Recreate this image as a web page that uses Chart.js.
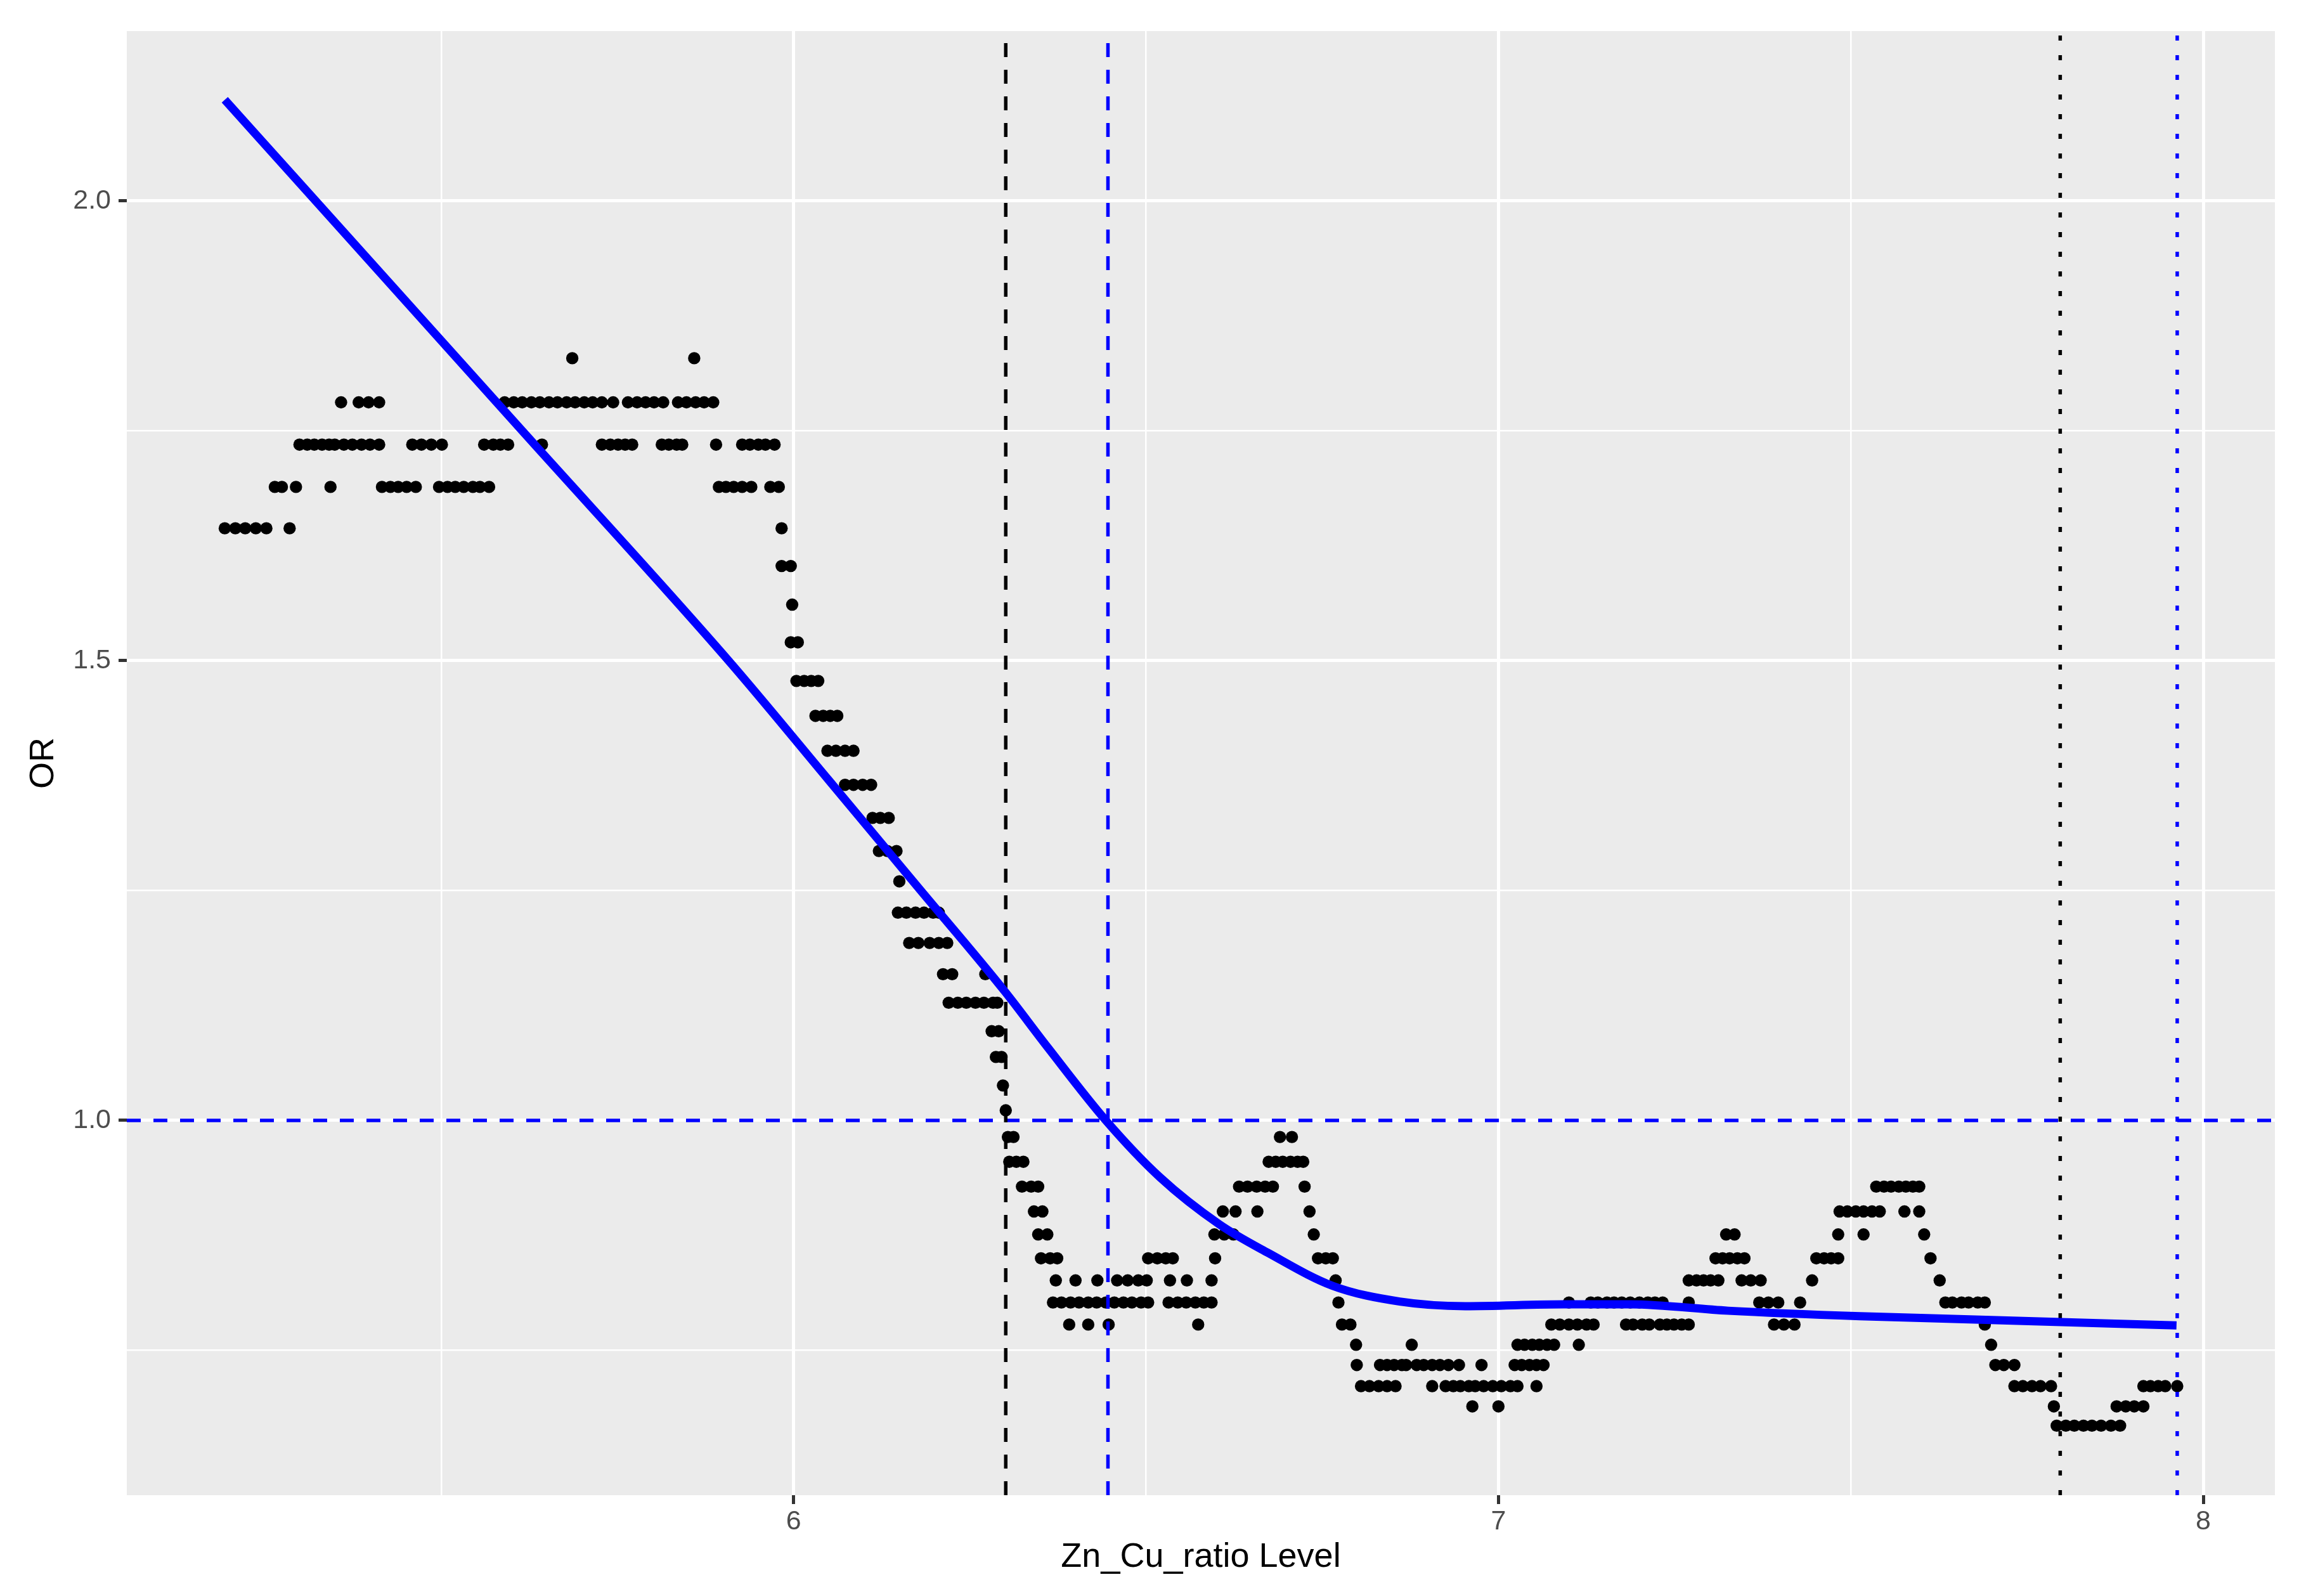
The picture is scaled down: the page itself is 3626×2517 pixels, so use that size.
<!DOCTYPE html>
<html>
<head>
<meta charset="utf-8">
<style>
  html, body { margin: 0; padding: 0; background: #ffffff; }
  canvas { display: block; }
</style>
<script src="https://cdn.jsdelivr.net/npm/chart.js@4.4.1/dist/chart.umd.min.js"></script>
</head>
<body>
<canvas id="c" width="3626" height="2517"></canvas>
<script>
// ---- Data ----
const orLevels = [1.829, 1.781, 1.735, 1.689, 1.644, 1.603, 1.561, 1.520, 1.478, 1.440,
  1.402, 1.365, 1.329, 1.293, 1.260, 1.226, 1.193, 1.159, 1.128, 1.097,
  1.069, 1.038, 1.011, 0.982, 0.955, 0.928, 0.901, 0.876, 0.850, 0.826,
  0.802, 0.778, 0.756, 0.734, 0.711, 0.689, 0.668];

const levelX = [
  [5.686, 5.859],
  [5.358, 5.383, 5.397, 5.412, 5.590, 5.603, 5.615, 5.628, 5.640, 5.653, 5.665, 5.678, 5.690, 5.703, 5.715, 5.728, 5.744, 5.765, 5.778, 5.790, 5.802, 5.815, 5.836, 5.848, 5.861, 5.873, 5.886],
  [5.299, 5.310, 5.320, 5.331, 5.341, 5.349, 5.362, 5.374, 5.387, 5.399, 5.412, 5.459, 5.472, 5.486, 5.501, 5.561, 5.574, 5.584, 5.595, 5.643, 5.728, 5.740, 5.751, 5.761, 5.771, 5.813, 5.823, 5.834, 5.842, 5.890, 5.927, 5.938, 5.950, 5.960, 5.973],
  [5.264, 5.274, 5.294, 5.343, 5.416, 5.428, 5.439, 5.451, 5.464, 5.497, 5.509, 5.520, 5.532, 5.545, 5.555, 5.568, 5.894, 5.904, 5.915, 5.927, 5.940, 5.967, 5.979],
  [5.193, 5.208, 5.222, 5.237, 5.252, 5.285, 5.983],
  [5.983, 5.996],
  [5.998],
  [5.996, 6.006],
  [6.004, 6.015, 6.025, 6.035],
  [6.031, 6.042, 6.052, 6.062],
  [6.048, 6.060, 6.073, 6.085],
  [6.073, 6.085, 6.098, 6.110],
  [6.112, 6.123, 6.135],
  [6.121, 6.133, 6.146],
  [6.150],
  [6.148, 6.160, 6.173, 6.185, 6.198, 6.206],
  [6.164, 6.177, 6.193, 6.206, 6.218],
  [6.212, 6.225, 6.272],
  [6.220, 6.233, 6.245, 6.258, 6.270, 6.283, 6.289],
  [6.281, 6.291],
  [6.287, 6.295],
  [6.297],
  [6.301],
  [6.304, 6.312, 6.690, 6.707],
  [6.306, 6.316, 6.326, 6.674, 6.684, 6.694, 6.705, 6.715, 6.723],
  [6.324, 6.337, 6.347, 6.632, 6.644, 6.657, 6.669, 6.680, 6.725, 7.536, 7.547, 7.557, 7.568, 7.578, 7.588, 7.597],
  [6.341, 6.353, 6.609, 6.627, 6.658, 6.732, 7.484, 7.495, 7.507, 7.518, 7.530, 7.541, 7.576, 7.597],
  [6.347, 6.360, 6.597, 6.611, 6.624, 6.738, 7.323, 7.335, 7.482, 7.518, 7.604],
  [6.351, 6.364, 6.374, 6.503, 6.516, 6.528, 6.538, 6.598, 6.744, 6.755, 6.765, 7.308, 7.318, 7.328, 7.339, 7.349, 7.451, 7.462, 7.472, 7.482, 7.613],
  [6.372, 6.400, 6.431, 6.459, 6.474, 6.489, 6.501, 6.534, 6.558, 6.593, 6.769, 7.270, 7.281, 7.291, 7.301, 7.312, 7.345, 7.358, 7.372, 7.445, 7.626],
  [6.368, 6.380, 6.393, 6.405, 6.418, 6.430, 6.443, 6.455, 6.468, 6.480, 6.493, 6.503, 6.532, 6.545, 6.557, 6.570, 6.582, 6.593, 6.773, 7.100, 7.131, 7.141, 7.154, 7.164, 7.175, 7.187, 7.200, 7.212, 7.222, 7.233, 7.270, 7.370, 7.383, 7.397, 7.428, 7.634, 7.644, 7.657, 7.667, 7.680, 7.690],
  [6.391, 6.418, 6.447, 6.574, 6.778, 6.790, 7.075, 7.087, 7.100, 7.112, 7.125, 7.135, 7.181, 7.191, 7.204, 7.214, 7.229, 7.239, 7.249, 7.260, 7.270, 7.391, 7.405, 7.420, 7.690],
  [6.798, 6.877, 7.027, 7.037, 7.048, 7.058, 7.069, 7.079, 7.114, 7.699],
  [6.799, 6.832, 6.842, 6.852, 6.863, 6.869, 6.884, 6.894, 6.906, 6.917, 6.929, 6.944, 6.976, 7.023, 7.033, 7.044, 7.054, 7.064, 7.705, 7.717, 7.732],
  [6.805, 6.817, 6.830, 6.842, 6.854, 6.906, 6.925, 6.936, 6.946, 6.958, 6.967, 6.979, 6.992, 7.004, 7.017, 7.027, 7.054, 7.732, 7.744, 7.757, 7.769, 7.784, 7.915, 7.925, 7.936, 7.946, 7.963],
  [6.963, 7.000, 7.788, 7.877, 7.890, 7.902, 7.915],
  [7.792, 7.805, 7.817, 7.830, 7.842, 7.855, 7.869, 7.882]
];

// Fitted spline curve (blue)
const curveX = [5.193, 5.322, 5.615, 5.909, 6.050, 6.175, 6.300, 6.360, 6.443, 6.520, 6.604, 6.673, 6.765, 6.860, 6.953, 7.093, 7.186, 7.326, 7.513, 7.699, 7.962];
const curveY = [2.110, 2.000, 1.750, 1.499, 1.370, 1.255, 1.140, 1.080, 1.000, 0.938, 0.887, 0.856, 0.820, 0.803, 0.798, 0.800, 0.800, 0.793, 0.787, 0.783, 0.777];

// Reference lines
const refBlackDashedX = 6.301;
const refBlueDashedX = 6.446;
const refBlackDottedX = 7.797;
const refBlueDottedX = 7.963;
const refHLineY = 1.0;

// Axis ranges and ticks
const xRange = [5.054, 8.1016];
const yRange = [0.5924, 2.1848];
const xTickStep = 0.5;
const yTickStep = 0.25;
const xTitle = 'Zn_Cu_ratio Level';
const yTitle = 'OR';

// ---- Build datasets ----
const pointData = [];
orLevels.forEach((y, i) => levelX[i].forEach(x => pointData.push({x: x, y: y})));
const curveData = curveX.map((x, i) => ({x: x, y: curveY[i]}));
const vline = x => [{x: x, y: yRange[0]}, {x: x, y: yRange[1]}];
const hline = y => [{x: xRange[0], y: y}, {x: xRange[1], y: y}];

const FONT = '"Liberation Sans", Arial, Helvetica, sans-serif';
const isWhole = v => Math.abs(v - Math.round(v)) < 1e-6;
const isHalf = v => Math.abs(v * 2 - Math.round(v * 2)) < 1e-6;

const panelBg = {
  id: 'panelBg',
  beforeDraw(chart) {
    const {ctx, chartArea: a} = chart;
    ctx.save();
    ctx.fillStyle = '#ffffff';
    ctx.fillRect(0, 0, chart.width, chart.height);
    ctx.fillStyle = '#EBEBEB';
    ctx.fillRect(a.left, a.top, a.right - a.left, a.bottom - a.top);
    ctx.restore();
  }
};

const refLine = (data, color, dash, order) => ({
  type: 'line', data: data, borderColor: color, borderWidth: 5.5, borderDash: dash,
  pointRadius: 0, fill: false, order: order, borderCapStyle: 'butt', tension: 0
});

new Chart(document.getElementById('c'), {
  type: 'scatter',
  data: {
    datasets: [
      { type: 'scatter', data: pointData, backgroundColor: '#000000', borderWidth: 0,
        pointRadius: 9.7, pointHoverRadius: 9.7, order: 5 },
      refLine(vline(refBlackDashedX), '#000000', [22, 20], 3),
      refLine(vline(refBlueDashedX), '#0000FF', [22, 20], 3),
      refLine(vline(refBlackDottedX), '#000000', [8, 23], 3),
      refLine(vline(refBlueDottedX), '#0000FF', [8, 23], 3),
      refLine(hline(refHLineY), '#0000FF', [22, 20], 3),
      { type: 'line', data: curveData, borderColor: '#0000FF', borderWidth: 13,
        pointRadius: 0, fill: false, cubicInterpolationMode: 'monotone', order: 1,
        borderCapStyle: 'butt', borderJoinStyle: 'round' }
    ]
  },
  options: {
    responsive: false,
    animation: false,
    devicePixelRatio: 1,
    events: [],
    layout: { padding: { top: 49, right: 38, left: 0, bottom: 0 } },
    plugins: { legend: { display: false }, tooltip: { enabled: false } },
    scales: {
      x: {
        type: 'linear', min: xRange[0], max: xRange[1],
        afterFit: s => { s.height = 159; },
        border: { display: false },
        grid: {
          color: '#FFFFFF',
          lineWidth: c => isWhole(c.tick.value) ? 5 : 2.5,
          drawTicks: true, tickLength: 14,
          tickColor: c => isWhole(c.tick.value) ? '#333333' : 'rgba(0,0,0,0)',
          tickWidth: c => isWhole(c.tick.value) ? 5 : 0
        },
        ticks: {
          stepSize: xTickStep, includeBounds: false, autoSkip: false, maxRotation: 0,
          padding: 2, color: '#4D4D4D', font: { family: FONT, size: 43 },
          callback: v => isWhole(v) ? String(Math.round(v)) : ''
        },
        title: { display: true, text: xTitle, color: '#000000',
          font: { family: FONT, size: 54 }, padding: { top: 0, bottom: 28 } }
      },
      y: {
        type: 'linear', min: yRange[0], max: yRange[1],
        afterFit: s => { s.width = 200; },
        border: { display: false },
        grid: {
          color: '#FFFFFF',
          lineWidth: c => isHalf(c.tick.value) ? 5 : 2.5,
          drawTicks: true, tickLength: 13,
          tickColor: c => isHalf(c.tick.value) ? '#333333' : 'rgba(0,0,0,0)',
          tickWidth: c => isHalf(c.tick.value) ? 5 : 0
        },
        ticks: {
          stepSize: yTickStep, includeBounds: false, autoSkip: false,
          padding: 12, color: '#4D4D4D', font: { family: FONT, size: 43 },
          callback: v => isHalf(v) ? v.toFixed(1) : ''
        },
        title: { display: true, text: yTitle, color: '#000000',
          font: { family: FONT, size: 54 }, padding: { top: 37, bottom: 0 } }
      }
    }
  },
  plugins: [panelBg]
});
</script>
</body>
</html>
